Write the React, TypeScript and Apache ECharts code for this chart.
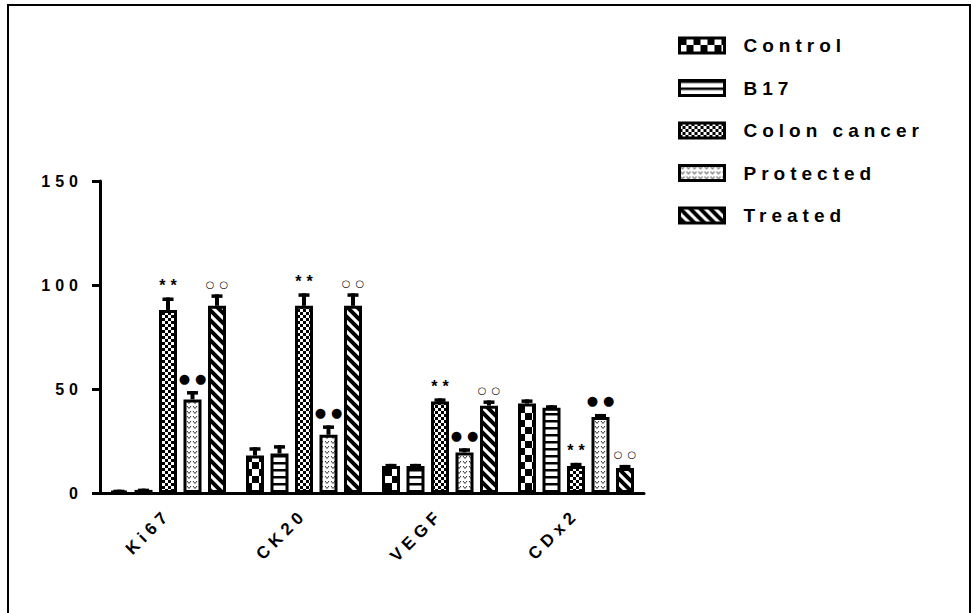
import React, { useEffect, useRef } from "react";
import * as echarts from "echarts";

// Marker expression per group (mean with upper SEM)
const categories = ["Ki67", "CK20", "VEGF", "CDx2"];
const seriesNames = ["Control", "B17", "Colon cancer", "Protected", "Treated"];

const controlValues = [1, 18, 13, 43];
const b17Values = [1.5, 19, 13, 41];
const colonValues = [88, 90, 44, 13];
const protectedValues = [45, 28, 19.5, 36.5];
const treatedValues = [90, 90, 42, 12];

const controlErr = [0.6, 4, 1, 2];
const b17Err = [0.6, 4, 1, 1.2];
const colonErr = [6, 6, 1.5, 1.5];
const protectedErr = [4, 4.5, 2, 1.5];
const treatedErr = [5.5, 6, 2.5, 1.5];

// Significance marks drawn above each bar
const controlMarks = ["", "", "", ""];
const b17Marks = ["", "", "", ""];
const colonMarks = ["**", "**", "**", "**"];
const protectedMarks = ["●●", "●●", "●●", "●●"];
const treatedMarks = ["○○", "○○", "○○", "○○"];

const yTicks = [0, 50, 100, 150];

const BAR_W = 18;
const BAR_GAP_PX = 6.5;
const FONT = 'Arial, "Liberation Sans", sans-serif';
const MARK_FONT = '"DejaVu Sans", sans-serif';

function makeTile(w: number, h: number, draw: (ctx: CanvasRenderingContext2D) => void) {
  const c = document.createElement("canvas");
  c.width = w;
  c.height = h;
  const ctx = c.getContext("2d")!;
  ctx.fillStyle = "#fff";
  ctx.fillRect(0, 0, w, h);
  ctx.fillStyle = "#000";
  ctx.strokeStyle = "#000";
  draw(ctx);
  return { image: c, repeat: "repeat", imageWidth: w, imageHeight: h } as any;
}

function buildPatterns() {
  const coarseChecker = makeTile(14, 14, (ctx) => {
    ctx.fillRect(0, 0, 7, 7);
    ctx.fillRect(7, 7, 7, 7);
  });
  const hStripes = makeTile(8, 7, (ctx) => {
    ctx.fillRect(0, 0, 8, 2.5);
  });
  const fineChecker = makeTile(6, 6, (ctx) => {
    ctx.fillRect(0, 0, 3, 3);
    ctx.fillRect(3, 3, 3, 3);
  });
  const dotted = makeTile(6, 5, (ctx) => {
    ctx.lineWidth = 1;
    ctx.strokeStyle = "#333";
    ctx.beginPath();
    ctx.moveTo(1, 1);
    ctx.lineTo(3, 3.5);
    ctx.lineTo(5, 1);
    ctx.stroke();
  });
  const diagonal = makeTile(10, 10, (ctx) => {
    ctx.lineWidth = 4;
    ctx.lineCap = "square";
    for (let k = -1; k <= 1; k++) {
      ctx.beginPath();
      ctx.moveTo(k * 10 - 2, -2);
      ctx.lineTo(k * 10 + 12, 12);
      ctx.stroke();
    }
  });
  return [coarseChecker, hStripes, fineChecker, dotted, diagonal];
}

export default function App() {
  const ref = useRef<HTMLDivElement>(null);

  useEffect(() => {
    document.body.style.margin = "0";
    if (!ref.current) return;
    const chart = echarts.init(ref.current, undefined, { renderer: "svg" });
    const patterns = buildPatterns();

    const values = [controlValues, b17Values, colonValues, protectedValues, treatedValues];
    const errs = [controlErr, b17Err, colonErr, protectedErr, treatedErr];
    const marks = [controlMarks, b17Marks, colonMarks, protectedMarks, treatedMarks];
    const markFont: Record<string, string> = {
      "**": `bold 16px ${FONT}`,
      "●●": `13px ${MARK_FONT}`,
      "○○": `bold 10px ${MARK_FONT}`,
    };
    const markGap: Record<string, number> = { "**": 12, "●●": 13, "○○": 10 };

    const barSeries = seriesNames.map((name, si) => ({
      name,
      type: "bar",
      barWidth: BAR_W,
      barGap: `${(BAR_GAP_PX / BAR_W) * 100}%`,
      data: values[si],
      itemStyle: { color: patterns[si], borderColor: "#000", borderWidth: 3 },
      z: 2,
    }));

    const errSeries = seriesNames.map((name, si) => ({
      name: `${name} SEM`,
      type: "custom",
      z: 3,
      data: categories.map((_, ci) => [ci, values[si][ci], errs[si][ci]]),
      encode: { x: 0, y: 1 },
      renderItem: (params: any, api: any) => {
        const ci = api.value(0) as number;
        const v = api.value(1) as number;
        const e = api.value(2) as number;
        const base = api.coord([ci, v]);
        const top = api.coord([ci, v + e]);
        const x = base[0] + (si - 2) * (BAR_W + BAR_GAP_PX);
        const yTop = top[1];
        const mark = marks[si][ci];
        const children: any[] = [
          { type: "rect", shape: { x: x - 2, y: yTop, width: 4, height: base[1] - yTop }, style: { fill: "#000" } },
          { type: "rect", shape: { x: x - 5.5, y: yTop, width: 11, height: 3.5 }, style: { fill: "#000" } },
        ];
        if (mark) {
          children.push({
            type: "text",
            x: x + 2.5,
            y: yTop - markGap[mark],
            style: {
              text: mark,
              fill: "#000",
              font: markFont[mark],
              align: "center",
              verticalAlign: "middle",
            },
          });
        }
        return { type: "group", children };
      },
    }));

    chart.setOption({
      animation: false,
      backgroundColor: "#fff",
      graphic: [
        {
          type: "rect",
          shape: { x: 8, y: 5, width: 962, height: 640 },
          style: { fill: "none", stroke: "#000", lineWidth: 2 },
          silent: true,
        },
      ],
      grid: { left: 100, top: 181, right: 329, bottom: 120, containLabel: false },
      legend: {
        orient: "vertical",
        left: 678,
        top: 36,
        padding: 0,
        data: seriesNames,
        icon: "rect",
        itemWidth: 45,
        itemHeight: 15,
        itemGap: 23.5,
        itemStyle: { borderColor: "#000", borderWidth: 3 },
        textStyle: {
          fontFamily: FONT,
          fontWeight: "bold",
          fontSize: 19,
          color: "#000",
          padding: [0, 0, 0, 14],
          lineHeight: 15,
        },
      },
      xAxis: {
        type: "category",
        data: categories,
        axisLine: { lineStyle: { color: "#000", width: 3 } },
        axisTick: { alignWithLabel: true, length: 7, lineStyle: { color: "#000", width: 3 } },
        axisLabel: {
          rotate: 45,
          interval: 0,
          margin: 19,
          color: "#000",
          fontFamily: FONT,
          fontWeight: "bold",
          fontSize: 17,
        },
      },
      yAxis: {
        type: "value",
        min: yTicks[0],
        max: yTicks[yTicks.length - 1],
        interval: 50,
        axisLine: { show: true, lineStyle: { color: "#000", width: 3 } },
        axisTick: { show: true, length: 8, lineStyle: { color: "#000", width: 3 } },
        splitLine: { show: false },
        axisLabel: {
          margin: 17,
          color: "#000",
          fontFamily: FONT,
          fontWeight: "bold",
          fontSize: 16,
        },
      },
      series: [...barSeries, ...errSeries],
    });

    return () => chart.dispose();
  }, []);

  return (
    <>
      <style>{".fig text { letter-spacing: 5px; }"}</style>
      <div className="fig" ref={ref} style={{ width: 973, height: 613 }} />
    </>
  );
}
